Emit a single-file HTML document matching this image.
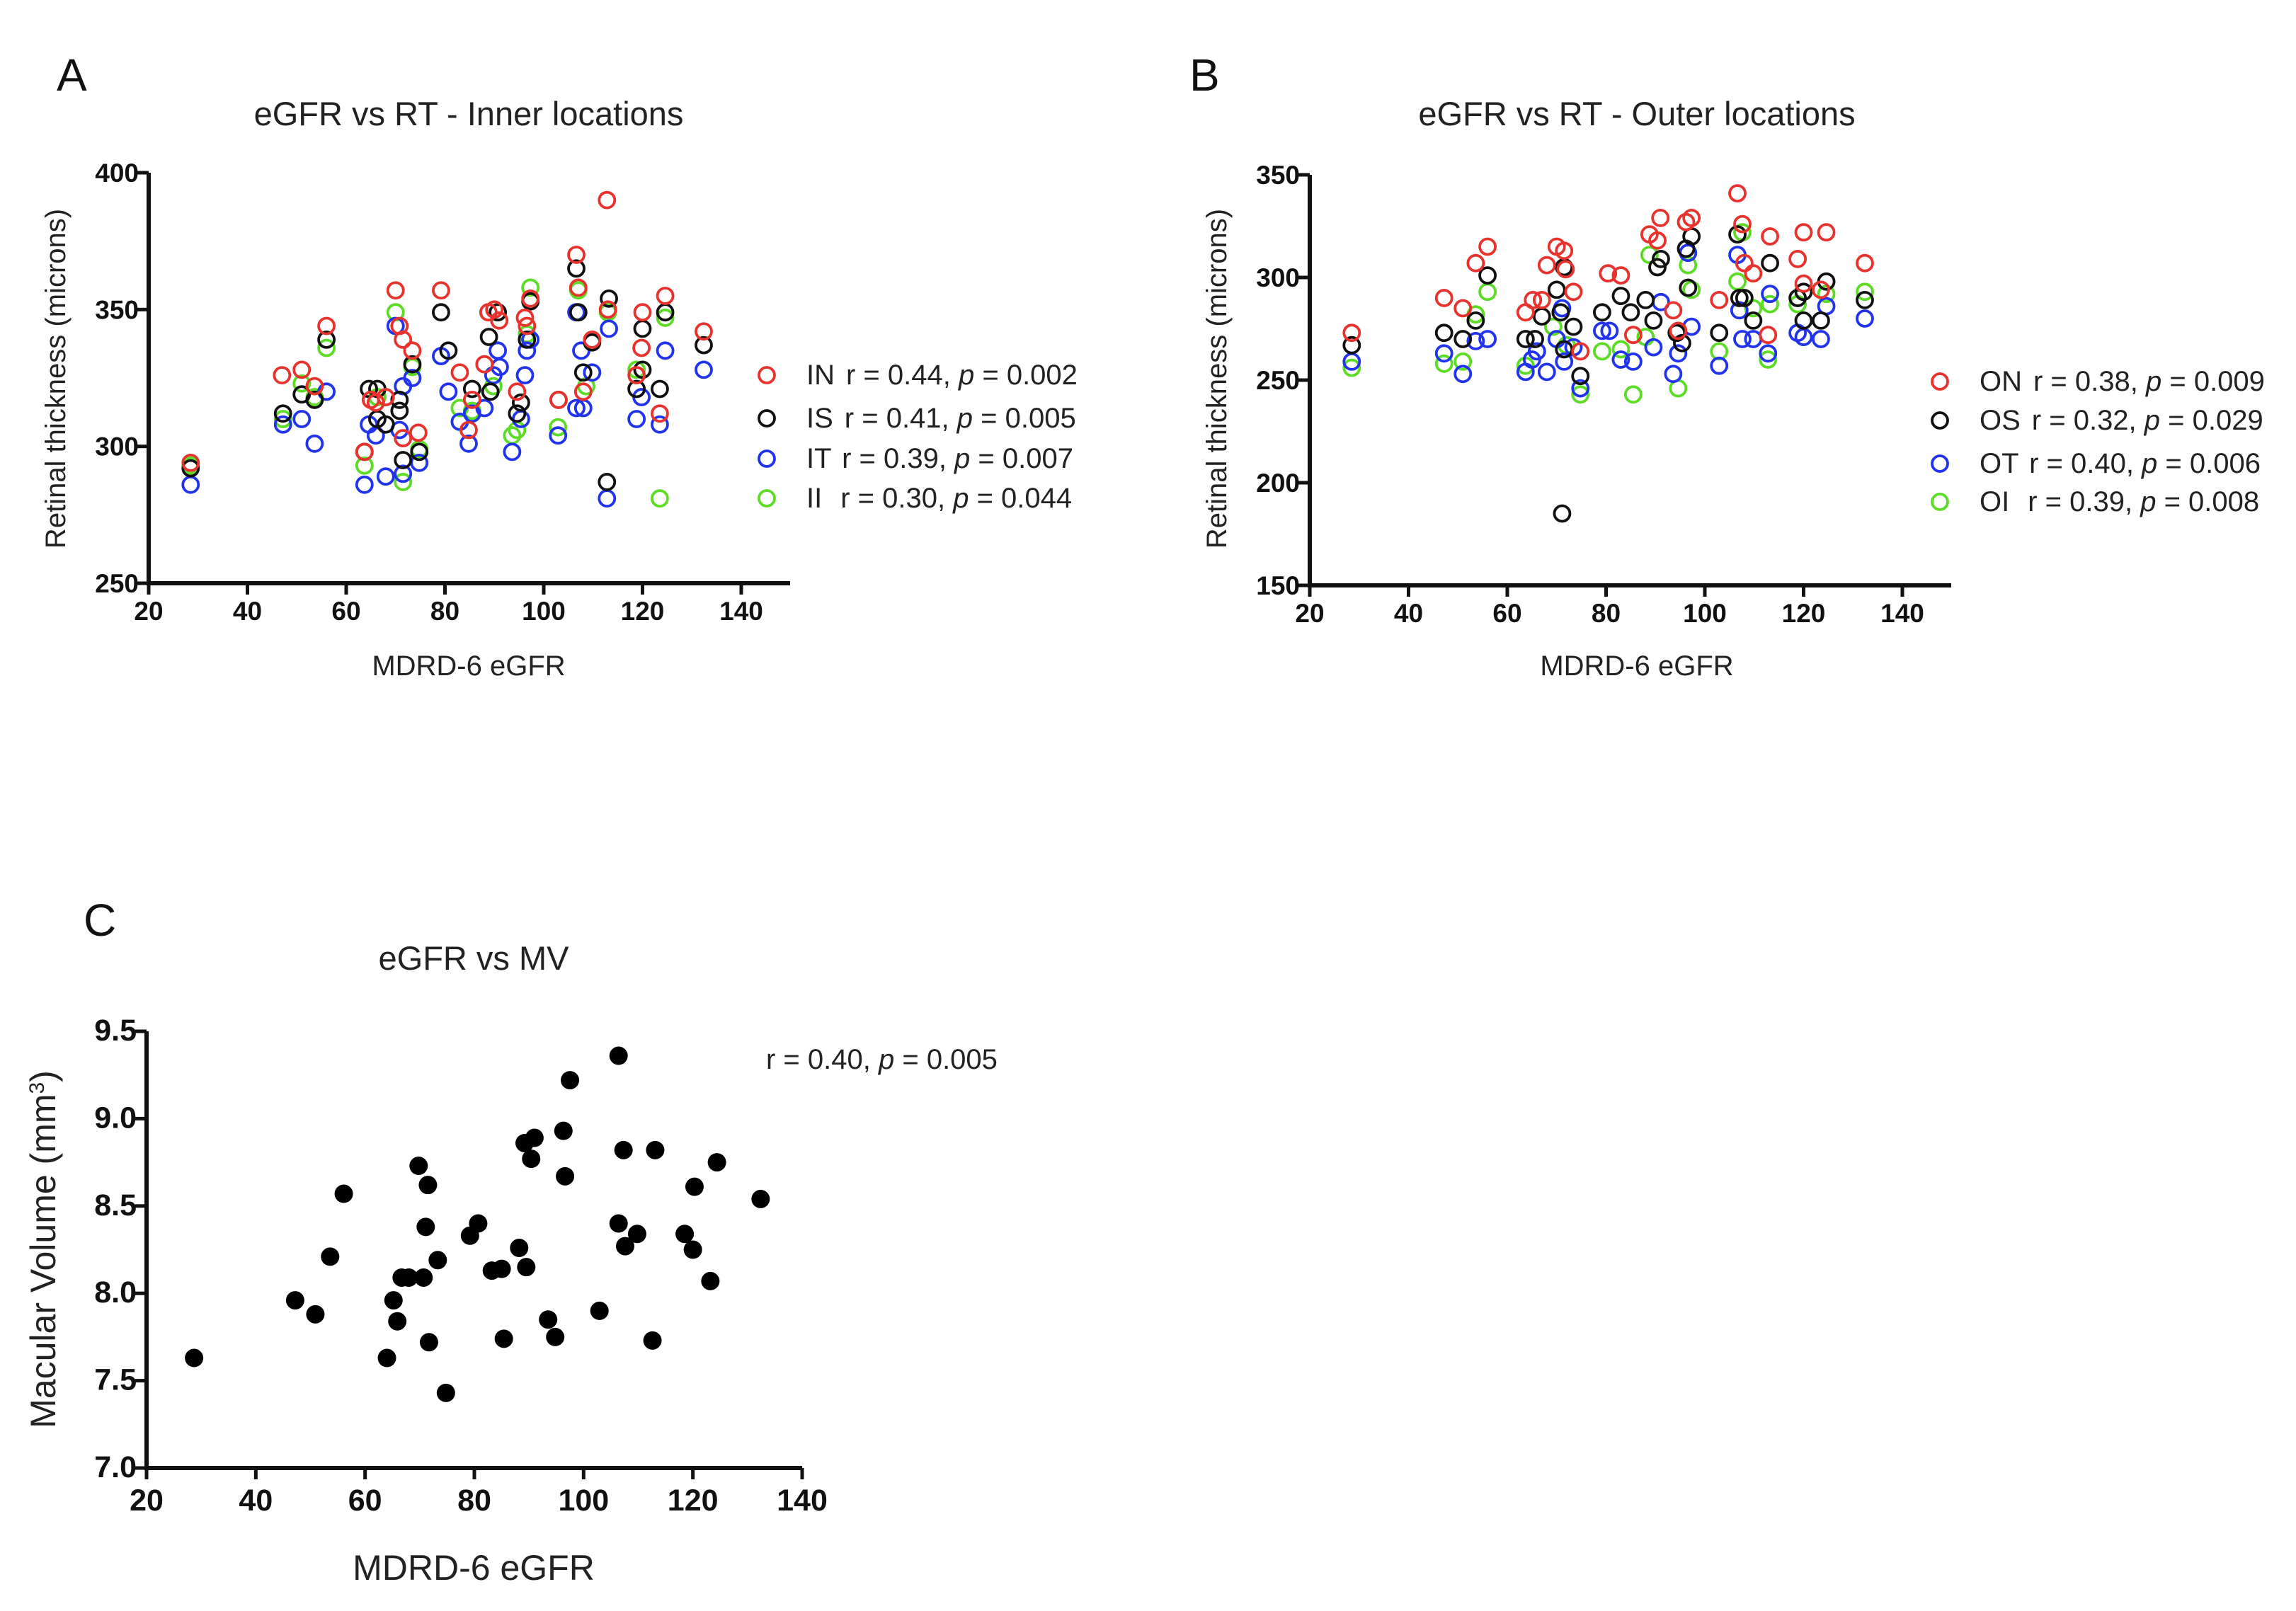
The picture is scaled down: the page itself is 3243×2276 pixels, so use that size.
<!DOCTYPE html>
<html><head><meta charset="utf-8">
<style>
html,body{margin:0;padding:0;background:#fff;}
svg{display:block;font-family:"Liberation Sans",Arial,sans-serif;}
.tick{font-weight:bold;font-size:37px;fill:#111;}
.lab{font-size:40px;fill:#222;}
.ttl{font-size:47px;fill:#222;}
.leg{font-size:40px;fill:#222;}
.let{font-size:64px;fill:#111;}
</style></head>
<body>
<svg id="fig" width="3243" height="2276" viewBox="0 0 3243 2276" xmlns="http://www.w3.org/2000/svg">
<rect width="3243" height="2276" fill="#fff"/>
<text class="let" x="80" y="128">A</text>
<text class="let" x="1680" y="128">B</text>
<text class="let" x="118" y="1322">C</text>
<text class="ttl" x="662" y="177" text-anchor="middle">eGFR vs RT - Inner locations</text>
<text class="ttl" x="2312" y="177" text-anchor="middle">eGFR vs RT - Outer locations</text>
<text class="ttl" x="669" y="1370" text-anchor="middle">eGFR vs MV</text>
<g id="pa"></g><g id="pb"></g><g id="pc"></g>
</svg>
<script>
// ---- Panel A data ----
const xTicksAB = [20,40,60,80,100,120,140];
const yTicksA = [250,300,350,400];
const aINx=[28.5,47,51,53.6,56,63.7,65,66,68,70,70.8,71.5,71.5,73.4,74.6,79.2,83,84.8,85.5,88,88.8,90,91,94.6,96.2,96.6,97.3,103,106.6,107,108,109.8,112.8,113,118.8,120,119.8,123.5,124.6,132.4];
const aINy=[294,326,328,322,344,298,317,316,318,357,344,339,303,335,305,357,327,306,317,330,349,350,346,320,347,344,354,317,370,358,320,339,390,350,326,349,336,312,355,342];
const aISx=[28.5,47.2,51,53.6,56,63.7,64.6,66.3,66.3,68,70.8,70.8,71.5,73.4,74.8,79.2,80.7,85.5,88.9,89.2,90.7,94.6,95.4,96.6,97.3,103,106.6,107,108,109.8,112.8,113.2,118.8,120,120,123.5,124.6,132.4];
const aISy=[292,312,319,317,339,298,321,321,310,308,317,313,295,330,298,349,335,321,340,320,349,312,316,339,353,317,365,349,327,338,287,354,321,343,328,321,349,337];
const aITx=[28.5,47.2,51,53.6,56,63.7,64.6,66,68,70,70.8,71.5,71.5,73.4,74.8,79.2,80.7,83,84.8,85.5,88,89.8,90.7,91.1,93.6,95.4,96.2,96.6,97.3,102.9,106.6,106.6,107.6,108,109.8,112.8,113.2,118.8,119.8,123.5,124.6,132.4];
const aITy=[286,308,310,301,320,286,308,304,289,344,306,322,290,325,294,333,320,309,301,312,314,326,335,329,298,310,326,335,339,304,349,314,335,314,327,281,343,310,318,308,335,328];
const aIIx=[28.5,56,51,63.7,70,71.5,74.8,83,93.6,94.6,97.3,102.9,107,113,118.8,123.5,124.6,85.5,96.6,73.4,66.3,47.2,53.6,108.6,89.8];
const aIIy=[293,336,323,293,349,287,299,314,304,306,358,307,357,349,328,281,347,313,341,329,318,310,318,322,322];
// ---- Panel B data ----
const yTicksB = [150,200,250,300,350];
const bONx=[28.5,47.2,51,53.6,56,63.7,65.2,67,68,70,71.5,71.8,73.4,74.8,80.4,83,85.5,88.8,90.4,91,93.6,94.6,96.2,97.3,102.9,106.6,107.6,108,109.8,113.2,112.8,118.8,120,120,123.5,124.6,132.4];
const bONy=[273,290,285,307,315,283,289,289,306,315,313,304,293,264,302,301,272,321,318,329,284,274,327,329,289,341,326,307,302,320,272,309,322,297,294,322,307];
const bOSx=[28.5,47.2,51,53.6,56,63.7,65.6,67,70,70.8,71.5,71.5,73.4,74.8,71.1,79.2,83,85,88,89.6,90.4,91.1,94.3,95.4,96.2,96.6,97.3,102.9,106.6,107,108,109.8,113.2,118.8,120,120,123.5,124.6,132.4];
const bOSy=[267,273,270,279,301,270,270,281,294,283,305,265,276,252,185,283,291,283,289,279,305,309,273,268,314,295,320,273,321,290,290,279,307,290,279,293,279,298,289];
const bOTx=[28.5,47.2,51,53.6,56,63.7,65,66,68,70,71.1,71.5,73.4,74.8,79.2,80.7,83,85.5,89.6,91.1,93.6,94.6,96.6,97.3,102.9,106.6,107,107.6,109.8,112.8,113.2,118.8,120,123.5,124.6,132.4];
const bOTy=[259,263,253,269,270,254,260,264,254,270,285,259,266,246,274,274,260,259,266,288,253,263,312,276,257,311,284,270,270,263,292,273,271,270,286,280];
const bOIx=[28.5,47.2,51,53.6,56,63.7,69.3,72,74.8,79.2,83,85.5,88.8,88,94.6,96.6,97.3,102.9,106.6,107.6,109.8,112.8,113.2,118.8,124.6,132.4];
const bOIy=[256,258,259,282,293,257,276,267,243,264,265,243,311,271,246,306,294,264,298,322,285,260,287,287,292,293];
// ---- Panel C data ----
const yTicksC = ["7.0","7.5","8.0","8.5","9.0","9.5"];
const cMVx=[28.7,47.2,50.9,53.6,56.1,64.0,65.2,65.9,66.7,68.0,69.8,70.7,71.1,71.5,71.7,73.3,74.8,79.2,80.7,83.2,85.0,85.4,88.2,89.2,89.5,90.4,91.0,93.5,94.8,96.3,96.6,97.5,102.9,106.4,106.4,107.3,107.6,109.8,112.6,113.1,118.5,120.0,120.3,123.2,124.4,132.4];
const cMVy=[7.63,7.96,7.88,8.21,8.57,7.63,7.96,7.84,8.09,8.09,8.73,8.09,8.38,8.62,7.72,8.19,7.43,8.33,8.40,8.13,8.14,7.74,8.26,8.86,8.15,8.77,8.89,7.85,7.75,8.93,8.67,9.22,7.90,9.36,8.40,8.82,8.27,8.34,7.73,8.82,8.34,8.25,8.61,8.07,8.75,8.54];

const NS="http://www.w3.org/2000/svg";
function mk(parent,tag,attrs){const e=document.createElementNS(NS,tag);for(const k in attrs)e.setAttribute(k,attrs[k]);parent.appendChild(e);return e;}
function lin(d0,d1,r0,r1){return v=>r0+(v-d0)/(d1-d0)*(r1-r0);}

function axes(g,xs,ys,xTicks,yTicks,xEnd,yTop,yBot,xLeft,tickCls,tickDy){
  const ax=mk(g,'line',{x1:xLeft,y1:yBot,x2:xEnd,y2:yBot,stroke:'#111','stroke-width':6});
  
  
  const ay=mk(g,'line',{x1:xLeft,y1:yBot+3,x2:xLeft,y2:yTop,stroke:'#111','stroke-width':6});
  
  
  xTicks.forEach(t=>{const x=xs(t);
    mk(g,'line',{x1:x,y1:yBot,x2:x,y2:yBot+16,stroke:'#111','stroke-width':5});
    const tx=mk(g,'text',{x:x,y:yBot+tickDy,'text-anchor':'middle',class:tickCls});tx.textContent=t;
    
    
  });
  yTicks.forEach(t=>{const y=ys(+t);
    mk(g,'line',{x1:xLeft-16,y1:y,x2:xLeft,y2:y,stroke:'#111','stroke-width':5});
    const tx=mk(g,'text',{x:xLeft-14,y:y+13,'text-anchor':'end',class:tickCls});tx.textContent=t;
    
    
  });
}
function series(g,xs,ys,X,Y,color,name,filled){
  X.forEach((v,i)=>{
    const c=mk(g,'circle',{cx:xs(v),cy:ys(Y[i]),r:filled?13:11,fill:filled?'#000':'none',stroke:color,'stroke-width':filled?0:3.8});
    
    
  });
}
function legend(g,x,y,color,code,text,p,name){
  const c=mk(g,'circle',{cx:x,cy:y-13,r:11,fill:'none',stroke:color,'stroke-width':3.8});
  
  
  const t=mk(g,'text',{x:x+56,y:y,class:'leg'});
  
  
  t.innerHTML=code+'<tspan dx="'+(code==='II'||code==='OI'?26:16)+'">'+text+'</tspan><tspan font-style="italic">p</tspan> = '+p;
}
function ytitle(g,x,y,txt,cls,name){
  const t=mk(g,'text',{x:x,y:y,'text-anchor':'middle',class:cls,transform:'rotate(-90 '+x+' '+y+')'});
  t.innerHTML=txt;
  
  
}
function xtitle(g,x,y,txt,cls,name){
  const t=mk(g,'text',{x:x,y:y,'text-anchor':'middle',class:cls});t.textContent=txt;
  
  
}
const RED='#e8322e',BLK='#111',BLU='#2233ee',GRN='#5cdc24';
// Panel A
{const g=document.getElementById('pa');
 const xs=lin(20,140,210,1047), ys=lin(250,400,824,244);
 axes(g,xs,ys,xTicksAB,yTicksA,1116,244,824,210,'tick',52);
 series(g,xs,ys,aIIx,aIIy,GRN,'ii');series(g,xs,ys,aITx,aITy,BLU,'it');
 series(g,xs,ys,aISx,aISy,BLK,'is');series(g,xs,ys,aINx,aINy,RED,'in');
 ytitle(g,92,535,'Retinal thickness (microns)','lab','y-axis-title-a');
 xtitle(g,662,954,'MDRD-6 eGFR','lab','x-axis-title-a');
 legend(g,1083,543,RED,'IN','r = 0.44, ','0.002','legend-entry-in');
 legend(g,1083,604,BLK,'IS','r = 0.41, ','0.005','legend-entry-is');
 legend(g,1083,661,BLU,'IT','r = 0.39, ','0.007','legend-entry-it');
 legend(g,1083,717,GRN,'II','r = 0.30, ','0.044','legend-entry-ii');
}
// Panel B
{const g=document.getElementById('pb');
 const xs=lin(20,140,1850,2687), ys=lin(150,350,827,247);
 axes(g,xs,ys,xTicksAB,yTicksB,2756,247,827,1850,'tick',52);
 series(g,xs,ys,bOIx,bOIy,GRN,'oi');series(g,xs,ys,bOTx,bOTy,BLU,'ot');
 series(g,xs,ys,bOSx,bOSy,BLK,'os');series(g,xs,ys,bONx,bONy,RED,'on');
 ytitle(g,1732,535,'Retinal thickness (microns)','lab','y-axis-title-b');
 xtitle(g,2312,954,'MDRD-6 eGFR','lab','x-axis-title-b');
 legend(g,2740,552,RED,'ON','r = 0.38, ','0.009','legend-entry-on');
 legend(g,2740,607,BLK,'OS','r = 0.32, ','0.029','legend-entry-os');
 legend(g,2740,668,BLU,'OT','r = 0.40, ','0.006','legend-entry-ot');
 legend(g,2740,722,GRN,'OI','r = 0.39, ','0.008','legend-entry-oi');
}
// Panel C
{const g=document.getElementById('pc');
 const xs=lin(20,140,207,1133), ys=lin(7.0,9.5,2074,1457);
 axes(g,xs,ys,xTicksAB,yTicksC,1133,1457,2074,207,'tick',60);
 g.querySelectorAll('text').forEach(t=>t.setAttribute('style','font-size:43px'));
 series(g,xs,ys,cMVx,cMVy,'#000','mv',true);
 ytitle(g,78,1765,'Macular Volume (mm<tspan baseline-shift="super" font-size="30">3</tspan>)','lab','y-axis-title-c');
 g.lastChild.setAttribute('style','font-size:50px');
 xtitle(g,669,2232,'MDRD-6 eGFR','lab','x-axis-title-c');
 g.lastChild.setAttribute('style','font-size:50px');
 const a=mk(g,'text',{x:1082,y:1510,class:'leg'});
 
 
 a.innerHTML='r = 0.40, <tspan font-style="italic">p</tspan> = 0.005';
}
</script>
</body></html>
